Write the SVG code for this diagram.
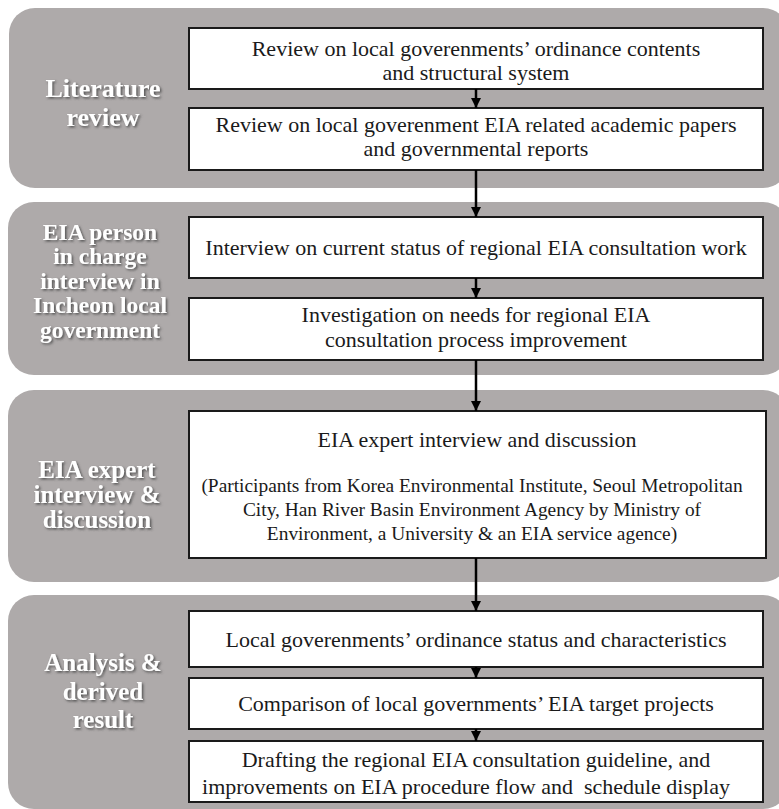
<svg xmlns="http://www.w3.org/2000/svg" width="779" height="809" viewBox="0 0 779 809">
<defs>
<style>
.panel{fill:#aeaaaa;}
.box{fill:#ffffff;stroke:#1a1a1a;stroke-width:2;}
.t{font-family:"Liberation Serif","Times New Roman",serif;font-size:22px;fill:#1a1a1a;text-anchor:middle;}
.p{font-size:19.4px;}
.lab{font-family:"Liberation Serif","Times New Roman",serif;font-weight:bold;fill:#ffffff;text-anchor:middle;filter:url(#sh);}
.conn{stroke:#000;stroke-width:2.5;fill:none;marker-end:url(#ah);}
</style>
<filter id="sh" x="-10%" y="-20%" width="130%" height="150%">
<feDropShadow dx="1.5" dy="1.5" stdDeviation="1" flood-color="#4a4a4a" flood-opacity="0.9"/>
</filter>
<marker id="ah" viewBox="0 0 10 10" refX="10" refY="5" markerWidth="4" markerHeight="4" orient="auto" markerUnits="strokeWidth">
<path d="M0,0 L10,5 L0,10 z" fill="#000"/>
</marker>
</defs>
<rect width="779" height="809" fill="#ffffff"/>

<g id="panel1">
<rect class="panel" x="9" y="8" width="780" height="180" rx="26"/>
<text class="lab" x="103" y="97" font-size="26">Literature</text>
<text class="lab" x="103" y="126" font-size="26">review</text>
</g>
<g id="panel2">
<rect class="panel" x="8" y="202" width="781" height="173" rx="26"/>
<text class="lab" x="100" y="240" font-size="23.5">EIA person</text>
<text class="lab" x="100" y="264" font-size="23.5">in charge</text>
<text class="lab" x="100" y="289" font-size="23.5">interview in</text>
<text class="lab" x="100" y="313" font-size="23.5">Incheon local</text>
<text class="lab" x="100" y="338" font-size="23.5">government</text>
</g>
<g id="panel3">
<rect class="panel" x="8" y="390" width="781" height="192" rx="26"/>
<text class="lab" x="97" y="478" font-size="25">EIA expert</text>
<text class="lab" x="97" y="503" font-size="25">interview &amp;</text>
<text class="lab" x="97" y="528" font-size="25">discussion</text>
</g>
<g id="panel4">
<rect class="panel" x="8" y="595" width="781" height="214" rx="26"/>
<text class="lab" x="103" y="671" font-size="25">Analysis &amp;</text>
<text class="lab" x="103" y="700" font-size="25">derived</text>
<text class="lab" x="103" y="728" font-size="25">result</text>
</g>

<g id="n1">
<rect class="box" x="189" y="28" width="574" height="61"/>
<text class="t" x="476" y="56">Review on local goverenments’ ordinance contents</text>
<text class="t" x="476" y="80">and structural system</text>
</g>
<g id="n2">
<rect class="box" x="189" y="108" width="574" height="62"/>
<text class="t" x="476" y="132">Review on local goverenment EIA related academic papers</text>
<text class="t" x="476" y="156">and governmental reports</text>
</g>
<g id="n3">
<rect class="box" x="189" y="217" width="574" height="61"/>
<text class="t" x="476" y="255">Interview on current status of regional EIA consultation work</text>
</g>
<g id="n4">
<rect class="box" x="189" y="298" width="574" height="62"/>
<text class="t" x="476" y="322">Investigation on needs for regional EIA</text>
<text class="t" x="476" y="347">consultation process improvement</text>
</g>
<g id="n5">
<rect class="box" x="189" y="411" width="577" height="147"/>
<text class="t" x="477" y="447">EIA expert interview and discussion</text>
<text class="t p" x="472" y="492">(Participants from Korea Environmental Institute, Seoul Metropolitan</text>
<text class="t p" x="472" y="516">City, Han River Basin Environment Agency by Ministry of</text>
<text class="t p" x="472" y="540">Environment, a University &amp; an EIA service agence)</text>
</g>
<g id="n6">
<rect class="box" x="189" y="611" width="574" height="56"/>
<text class="t" x="476" y="647">Local goverenments’ ordinance status and characteristics</text>
</g>
<g id="n7">
<rect class="box" x="189" y="678" width="574" height="51"/>
<text class="t" x="476" y="711">Comparison of local governments’ EIA target projects</text>
</g>
<g id="n8">
<rect class="box" x="189" y="741" width="574" height="61"/>
<text class="t" x="476" y="767">Drafting the regional EIA consultation guideline, and</text>
<text class="t" x="466" y="794" font-size="23.3" xml:space="preserve">improvements on EIA procedure flow and  schedule display</text>
</g>

<g id="connectors">
<line class="conn" x1="476" y1="89" x2="476" y2="108"/>
<line class="conn" x1="476" y1="170" x2="476" y2="217"/>
<line class="conn" x1="476" y1="278" x2="476" y2="298"/>
<line class="conn" x1="476" y1="360" x2="476" y2="411"/>
<line class="conn" x1="476" y1="558" x2="476" y2="611"/>
<line class="conn" x1="476" y1="667" x2="476" y2="678"/>
<line class="conn" x1="476" y1="729" x2="476" y2="741"/>
</g>
</svg>
